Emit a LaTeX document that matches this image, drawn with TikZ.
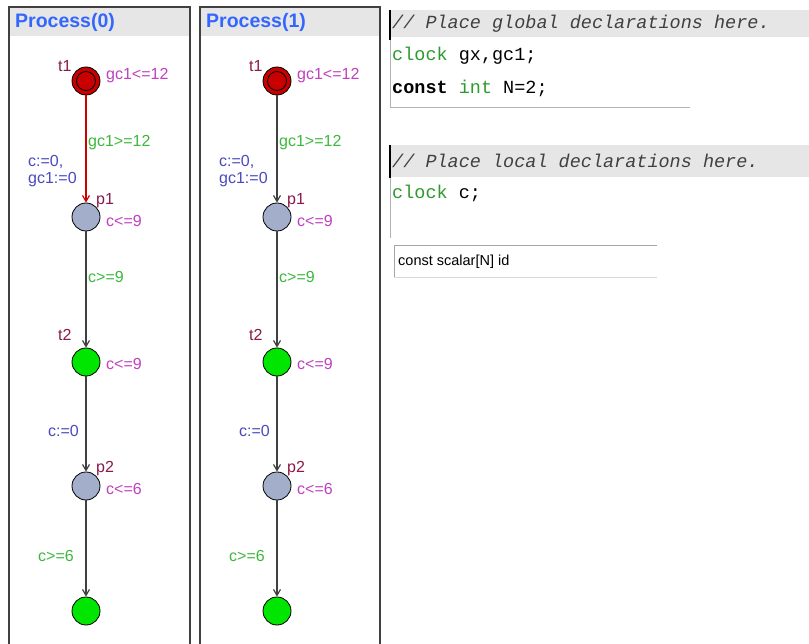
\documentclass[tikz,border=0pt]{standalone}
\usepackage{fontspec}
\setmainfont{Liberation Sans}
\newfontfamily\codefont{Liberation Mono}
\usetikzlibrary{arrows.meta}
\definecolor{hdr}{HTML}{E6E6E6}
\definecolor{frame}{HTML}{404040}
\definecolor{ttl}{HTML}{3366FF}
\definecolor{redloc}{HTML}{C80000}
\definecolor{grnloc}{HTML}{00E600}
\definecolor{gryloc}{HTML}{A3AECB}
\definecolor{lname}{HTML}{8A1A4A}
\definecolor{linv}{HTML}{C040C0}
\definecolor{lgrd}{HTML}{3DB83D}
\definecolor{lupd}{HTML}{4A4AC0}
\definecolor{kw}{HTML}{2E9A2E}
\tikzset{
  loc/.style={circle,draw=black,line width=0.8pt,minimum size=28pt,inner sep=0pt},
  inner/.style={circle,draw=black,line width=0.8pt,minimum size=19pt,inner sep=0pt},
  lbl/.style={anchor=west,inner sep=0pt,font=\fontsize{16}{17}\selectfont},
  edge/.style={draw=frame,line width=1.2pt,-{Straight Barb[length=6pt,width=7pt]}},
  code/.style={anchor=west,inner sep=0pt,font=\codefont\fontsize{18.5}{20}\selectfont},
  ttlstyle/.style={anchor=west,inner sep=0pt,text=ttl,font=\bfseries\fontsize{19.5}{21}\selectfont}
}
\begin{document}
\begin{tikzpicture}[x=1pt,y=-1pt]
\useasboundingbox (0,0) rectangle (809,644);
\fill[white] (0,0) rectangle (809,644);
% panels
\foreach \L/\R/\n in {9/190/0,200/380/1}{
  \fill[hdr] (\L,7) rectangle (\R,36);
  \draw[frame,line width=1.5pt] (\L,650) -- (\L,7) -- (\R,7) -- (\R,650);
}
\node[ttlstyle] (title0) at (15,22) {Process(0)};
\node[ttlstyle] (title1) at (206,22) {Process(1)};
% process 0 and 1 nodes
\foreach \dx/\p in {0/a,191/b}{
  \begin{scope}[xshift=\dx]
  \node[loc,fill=redloc] (\p t1) at (86,81) {};
  \node[inner] (\p t1i) at (86,81) {};
  \node[loc,fill=gryloc] (\p p1) at (86,217) {};
  \node[loc,fill=grnloc] (\p t2) at (86,362) {};
  \node[loc,fill=gryloc] (\p p2) at (86,486) {};
  \node[loc,fill=grnloc] (\p end) at (86,611) {};
  \node[lbl,text=lname] (\p n1) at (58,66) {t1};
  \node[lbl,text=linv] (\p i1) at (106,76) {gc1<=12};
  \node[lbl,text=lgrd] (\p g1) at (88,143) {gc1>=12};
  \node[lbl,text=lupd,align=left,anchor=north west] (\p u1) at (28,155) {c:=0,\\gc1:=0};
  \node[lbl,text=lname] (\p n2) at (96,201) {p1};
  \node[lbl,text=linv] (\p i2) at (106,221) {c<=9};
  \node[lbl,text=lgrd] (\p g2) at (88,277) {c>=9};
  \node[lbl,text=lname] (\p n3) at (58,335) {t2};
  \node[lbl,text=linv] (\p i3) at (106,364) {c<=9};
  \node[lbl,text=lupd] (\p u3) at (48,431) {c:=0};
  \node[lbl,text=lname] (\p n4) at (96,469) {p2};
  \node[lbl,text=linv] (\p i4) at (106,489) {c<=6};
  \node[lbl,text=lgrd] (\p g4) at (38,556) {c>=6};
  \draw[edge] (\p p1) -- (\p t2);
  \draw[edge] (\p t2) -- (\p p2);
  \draw[edge] (\p p2) -- (\p end);
  \end{scope}
}
\draw[edge,draw=red!80!black] (at1) -- (ap1);
\draw[edge] (bt1) -- (bp1);
% global declarations
\fill[hdr] (390,10) rectangle (809,37);
\draw[gray!60,line width=0.8pt] (390,10) -- (390,107) -- (690,107);
\draw[black,line width=2.5pt] (390,10) -- (390,40);
\node[code,font=\codefont\itshape\fontsize{18.5}{20}\selectfont,text=black!75] (gcom) at (392,24) {// Place global declarations here.};
\node[code] (gl1) at (392,56) {\textcolor{kw}{clock} gx,gc1;};
\node[code] (gl2) at (392,88) {\textbf{const} \textcolor{kw}{int} N=2;};
% local declarations
\fill[hdr] (390,145) rectangle (809,177);
\draw[gray!60,line width=0.8pt] (390,145) -- (390,238);
\draw[black,line width=2.5pt] (390,145) -- (390,178);
\node[code,font=\codefont\itshape\fontsize{18.5}{20}\selectfont,text=black!75] (lcom) at (392,161) {// Place local declarations here.};
\node[code] (ll1) at (392,193) {\textcolor{kw}{clock} c;};
% parameter box
\draw[gray!70,line width=0.8pt] (657,245) -- (394,245) -- (394,277);
\draw[gray!30,line width=0.8pt] (394,277) -- (657,277);
\node[lbl,text=black,font=\fontsize{14.5}{15}\selectfont] (param) at (398,262) {const scalar[N] id};
\end{tikzpicture}
\end{document}
